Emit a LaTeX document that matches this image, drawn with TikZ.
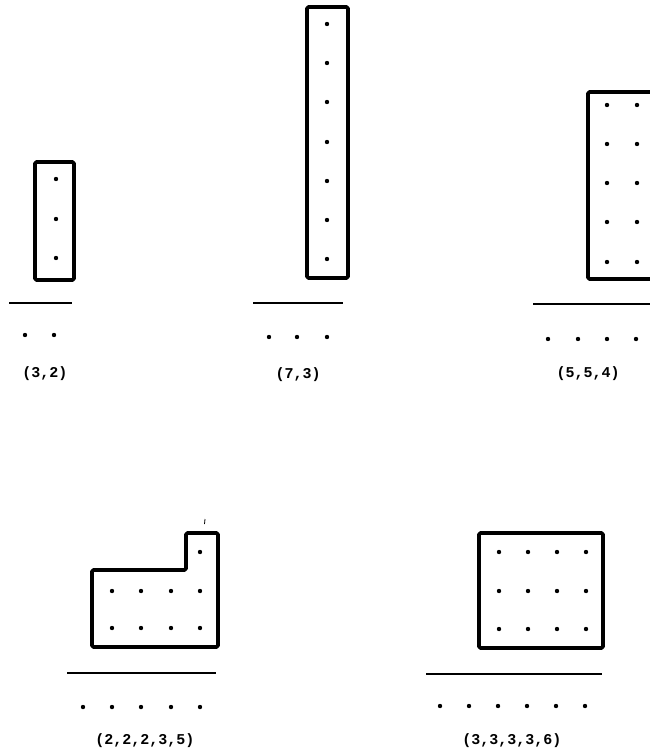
\documentclass[tikz,border=0pt]{standalone}
\usepackage{fontspec}
\setmonofont{Liberation Mono}
\begin{document}
\begin{tikzpicture}[x=1pt,y=-1pt,
  box/.style={line width=3.8pt, rounded corners=1.5pt, line join=round},
  base/.style={line width=2.4pt},
  lab/.style={font=\ttfamily\bfseries\fontsize{15}{17}\selectfont, inner sep=0pt}]
\def\dr{2.2pt}
\useasboundingbox (0,0) rectangle (650,752);
\clip (0,0) rectangle (650,752);
% panel 1
\draw[box] (35,162) rectangle (74,280);
\foreach \y in {179,219,258} \fill (56,\y) circle (\dr);
\coordinate (b1l) at (9,303); \coordinate (b1r) at (72,303);
\draw[base] (b1l) -- (b1r);
\foreach \x in {25,54} \fill (\x,335) circle (\dr);
\node[lab] (l1) at (45,374) {(3,2)};
% panel 2
\draw[box] (307,7) rectangle (348,278);
\foreach \y in {24,63,102,142,181,220,259} \fill (327,\y) circle (\dr);
\coordinate (b2l) at (253,303); \coordinate (b2r) at (343,303);
\draw[base] (b2l) -- (b2r);
\foreach \x in {269,297,327} \fill (\x,337) circle (\dr);
\node[lab] (l2) at (298,375) {(7,3)};
% panel 3
\draw[box] (588,92) rectangle (665,279);
\foreach \y in {105,144,183,222,262} {\fill (607,\y) circle (\dr); \fill (637,\y) circle (\dr);}
\coordinate (b3l) at (533,304); \coordinate (b3r) at (660,304);
\draw[base] (b3l) -- (b3r);
\foreach \x in {548,578,607,636} \fill (\x,339) circle (\dr);
\node[lab] (l3) at (588,374) {(5,5,4)};
% panel 4
\draw[box] (92,570) -- (186,570) -- (186,533) -- (218,533) -- (218,647) -- (92,647) -- cycle;
\foreach \x in {112,141,171,200} {\fill (\x,591) circle (\dr); \fill (\x,628) circle (\dr);}
\fill (200,552) circle (\dr);
\draw[line width=0.8pt] (205,519) -- (204.5,524);
\coordinate (b4l) at (67,673); \coordinate (b4r) at (216,673);
\draw[base] (b4l) -- (b4r);
\foreach \x in {83,112,141,171,200} \fill (\x,707) circle (\dr);
\node[lab] (l4) at (145,741) {(2,2,2,3,5)};
% panel 5
\draw[box] (479,533) rectangle (603,648);
\foreach \x in {499,528,557,586} {\fill (\x,552) circle (\dr); \fill (\x,591) circle (\dr); \fill (\x,629) circle (\dr);}
\coordinate (b5l) at (426,674); \coordinate (b5r) at (602,674);
\draw[base] (b5l) -- (b5r);
\foreach \x in {440,469,498,527,556,585} \fill (\x,706) circle (\dr);
\node[lab] (l5) at (512,741) {(3,3,3,3,6)};
\end{tikzpicture}
\end{document}
